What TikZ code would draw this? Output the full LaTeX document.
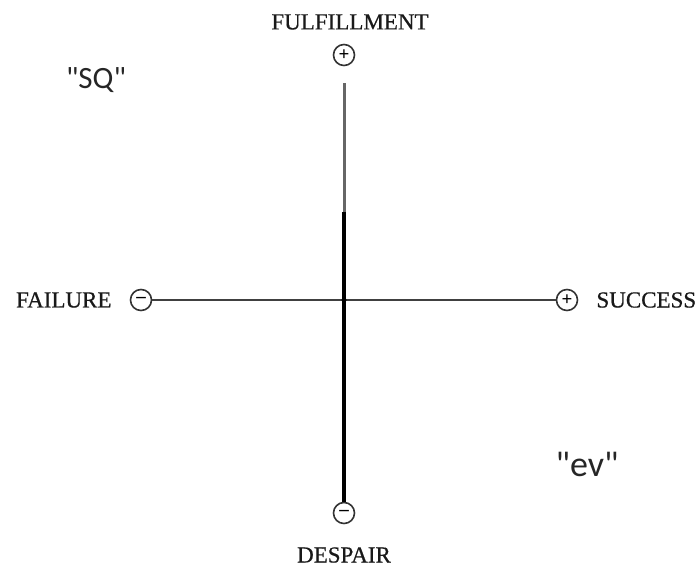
\documentclass[tikz,border=0pt]{standalone}
\usepackage{fontspec}
\setmainfont{Liberation Serif}
\newfontfamily\quotefont{Carlito}
\usetikzlibrary{positioning}

\begin{document}
\begin{tikzpicture}[
		x=1pt, y=-1pt,
		pole/.style={circle, draw=black!80, line width=1.6pt, minimum size=21pt, inner sep=0pt, font=\fontsize{19}{19}\selectfont\bfseries},
		axislabel/.style={font=\fontsize{23}{23}\selectfont\addfontfeature{FakeBold=0.6}, inner sep=0pt, text=black!90},
		zone/.style={inner sep=0pt, anchor=base, text=black!85}
		]
		\useasboundingbox (0,0) rectangle (699,570);
		% Poles
		\node (top) [pole] at (344,55) {+};
		\node (bottom) [pole] at (344,513) {–};
		\node (left) [pole] at (141,300) {–};
		\node (right) [pole] at (567,300) {+};
		\coordinate (split) at (344,212);
		
		% Labels
		\node (fulfil) [axislabel] at (350,22) {FULFILLMENT};
		\node (despair) [axislabel] at (344,555) {DESPAIR};
		\node (failure) [axislabel, left=18pt of left] {FAILURE};
		\node (success) [axislabel, right=18pt of right] {SUCCESS};
		\node (sq) [zone, font=\quotefont\fontsize{31}{31}\selectfont] at (96,88) {"SQ"};
		\node (ev) [zone, font=\quotefont\fontsize{36}{36}\selectfont] at (587,476) {"ev"};
		
		% Axes
		\draw [black!75, line width=2pt] (left) -- (right);
		\draw [black!60, line width=3pt, shorten <=17pt] (top) -- (split);
		\draw [black, line width=3.8pt] (split) -- (bottom);
		\fill [black] (344,300) circle (2.5pt);
		
	\end{tikzpicture}
\end{document}
